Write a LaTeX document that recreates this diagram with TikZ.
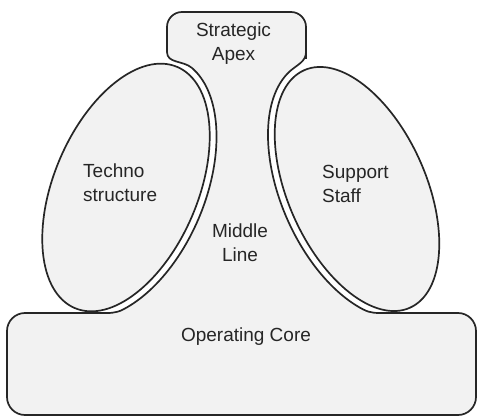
\documentclass[tikz,border=0pt]{standalone}
\usepackage{fontspec}
\setmainfont{Liberation Sans}

\begin{document}
\begin{tikzpicture}[x=1pt,y=1pt,
    outline/.style={draw=black!85,line width=1.7pt,fill=black!5},
    lbl/.style={font=\fontsize{19}{24}\selectfont,text=black!85,align=center,inner sep=0pt},
    declare function={
        lex(\t)=126+79*cos(\t)*cos(23)+138*sin(\t)*sin(23);
        ley(\t)=228.5-79*cos(\t)*sin(23)+138*sin(\t)*cos(23);
        rex(\t)=357+76*cos(\t)*cos(24)-137*sin(\t)*sin(24);
        rey(\t)=227+76*cos(\t)*sin(24)+137*sin(\t)*cos(24);
    }]
        \fill[white] (0,0) rectangle (477,416);
        \useasboundingbox (0,0) rectangle (477,416);
        \coordinate (ra) at ({rex(100)},{rey(100)});
        \coordinate (la) at ({lex(80)},{ley(80)});
        \coordinate (lb) at ({lex(-55)},{ley(-55)});
        \draw[outline] (167,380) [rounded corners=15pt] -- (167,404) -- (306,404) -- (306,372) [sharp corners] -- (306,364)
            to[out=-90,in=42] (ra)
            -- plot[domain=100:235,samples=60,variable=\t] ({rex(\t)},{rey(\t)})
            to[out=-28,in=180] (386,103) -- (420,103) [rounded corners=18pt] -- (476,103) -- (476,1) -- (7,1) -- (7,103) -- (60,103) [sharp corners] -- (100,103)
            to[out=0,in=208] (lb)
            -- plot[domain=-55:80,samples=60,variable=\t] ({lex(\t)},{ley(\t)})
            to[out=140,in=-90] (167,364) -- cycle;
        \draw[outline,shift={(126,228.5)},rotate=-23] (0,0) ellipse[x radius=72pt,y radius=131pt];
        \draw[outline,shift={(357,227)},rotate=24] (0,0) ellipse[x radius=69pt,y radius=130pt];
        \node[lbl] (apex) at (233.5,372) {Strategic\\Apex};
        \node[lbl,anchor=west,align=left] (techno) at (83,233) {Techno\\structure};
        \node[lbl,anchor=west,align=left] (support) at (322,232) {Support\\Staff};
        \node[lbl] (middle) at (240,173.5) {Middle\\Line};
        \node[lbl] (core) at (246,79) {Operating Core};
    \end{tikzpicture}
\end{document}
